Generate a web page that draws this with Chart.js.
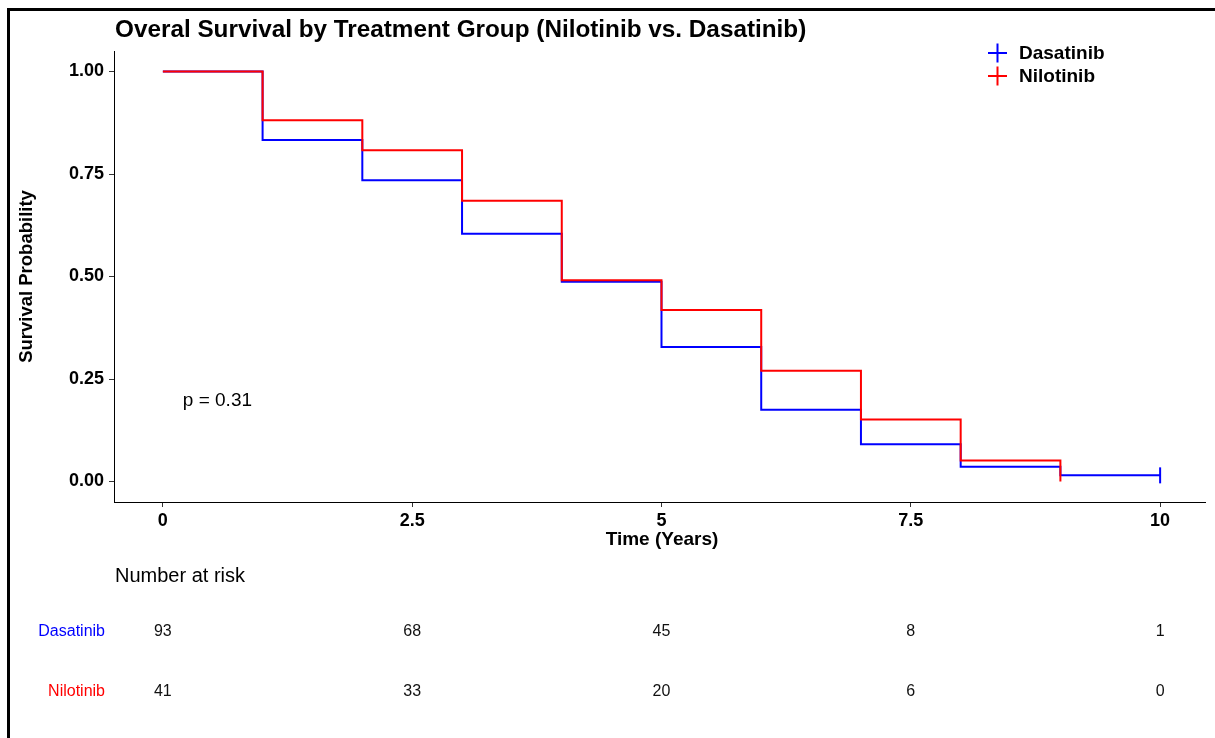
<!DOCTYPE html>
<html>
<head>
<meta charset="utf-8">
<title>Overal Survival by Treatment Group</title>
<script src="https://cdn.jsdelivr.net/npm/chart.js"></script>
<style>
  html, body { margin: 0; padding: 0; background: #fff; }
  #wrap { width: 1215px; height: 738px; }
</style>
</head>
<body>
<div id="wrap"><canvas id="km" width="1215" height="738"></canvas></div>
<script>
// Kaplan-Meier estimates
const timeYears = [0, 1, 2, 3, 4, 5, 6, 7, 8, 9, 10];
const dasatinibSurv = [1.00, 0.833, 0.735, 0.604, 0.487, 0.328, 0.175, 0.091, 0.036, 0.015, 0.015];
const nilotinibSurv = [1.00, 0.881, 0.808, 0.685, 0.491, 0.418, 0.270, 0.151, 0.051, 0.00];

// number-at-risk table
const riskTimes = [0, 2.5, 5, 7.5, 10];
const dasatinibRisk = [93, 68, 45, 8, 1];
const nilotinibRisk = [41, 33, 20, 6, 0];

const yTicks = [0, 0.25, 0.5, 0.75, 1];
const pValueText = "p = 0.31";

const FONT = "'Liberation Sans', Arial, sans-serif";
const BLUE = "#0000FF";
const RED = "#FF0000";

function toPoints(xs, ys) {
    return ys.map((y, i) => ({ x: xs[i], y: y }));
}

// everything that ggsurvplot draws around the curves
const extras = {
    id: "kmExtras",
    afterDraw(chart) {
        const ctx = chart.ctx;
        const x = chart.scales.x;
        const y = chart.scales.y;
        const area = chart.chartArea;
        ctx.save();

        // frame (top + left)
        ctx.fillStyle = "#000";
        ctx.fillRect(7, 8, 1215 - 7, 3);
        ctx.fillRect(7, 8, 3, 738 - 8);

        // title
        ctx.fillStyle = "#000";
        ctx.textBaseline = "alphabetic";
        ctx.textAlign = "left";
        ctx.font = "bold 24.3px " + FONT;
        ctx.fillText("Overal Survival by Treatment Group (Nilotinib vs. Dasatinib)", 115, 37);

        // axis titles
        ctx.font = "bold 19px " + FONT;
        ctx.textAlign = "center";
        ctx.textBaseline = "middle";
        ctx.fillText("Time (Years)", 662, 540);
        ctx.save();
        ctx.translate(27, (area.top + area.bottom) / 2);
        ctx.rotate(-Math.PI / 2);
        ctx.font = "bold 18.5px " + FONT;
        ctx.fillText("Survival Probability", 0, 0);
        ctx.restore();

        // legend
        const legend = [["Dasatinib", BLUE, 53], ["Nilotinib", RED, 76]];
        legend.forEach(([name, col, cy]) => {
            ctx.strokeStyle = col;
            ctx.lineWidth = 2;
            ctx.beginPath();
            ctx.moveTo(988, cy); ctx.lineTo(1007, cy);
            ctx.moveTo(997.5, cy - 9.5); ctx.lineTo(997.5, cy + 9.5);
            ctx.stroke();
            ctx.fillStyle = "#000";
            ctx.font = "bold 19px " + FONT;
            ctx.textAlign = "left";
            ctx.textBaseline = "middle";
            ctx.fillText(name, 1019, cy + 1);
        });

        // p value
        ctx.font = "19px " + FONT;
        ctx.textAlign = "left";
        ctx.fillText(pValueText, x.getPixelForValue(0.2), y.getPixelForValue(0.2) + 1);

        // risk table
        ctx.font = "20px " + FONT;
        ctx.fillText("Number at risk", 115, 576);
        const rows = [["Dasatinib", BLUE, dasatinibRisk, 632], ["Nilotinib", RED, nilotinibRisk, 692]];
        rows.forEach(([name, col, vals, cy]) => {
            ctx.font = "16px " + FONT;
            ctx.textAlign = "right";
            ctx.fillStyle = col;
            ctx.fillText(name, 105, cy);
            ctx.textAlign = "center";
            ctx.fillStyle = "#111";
            vals.forEach((v, i) => ctx.fillText(String(v), x.getPixelForValue(riskTimes[i]), cy));
        });

        ctx.restore();
    }
};

const axisCommon = {
    border: { display: true, color: "#000", width: 1 },
    grid: { display: true, drawOnChartArea: false, drawTicks: true, tickLength: 5, color: "#333" },
};

new Chart(document.getElementById("km"), {
    type: "line",
    data: {
        datasets: [
            {
                label: "Dasatinib",
                data: toPoints(timeYears, dasatinibSurv),
                borderColor: BLUE,
                backgroundColor: BLUE,
                borderWidth: 2,
                stepped: "before",
                fill: false,
                order: 2,
                pointStyle: "line",
                pointRotation: 90,
                pointBorderWidth: 2,
                pointRadius: dasatinibSurv.map((v, i) => i === dasatinibSurv.length - 1 ? 8 : 0),
                clip: false
            },
            {
                label: "Nilotinib",
                data: toPoints(timeYears, nilotinibSurv),
                borderColor: RED,
                backgroundColor: RED,
                borderWidth: 2,
                stepped: "before",
                fill: false,
                order: 1,
                pointRadius: 0,
                clip: false
            }
        ]
    },
    options: {
        responsive: false,
        animation: false,
        events: [],
        layout: { padding: { left: 0, top: 51, right: 0, bottom: 0 } },
        plugins: { legend: { display: false }, title: { display: false }, tooltip: { enabled: false } },
        scales: {
            x: {
                type: "linear",
                // the "10" label overhang keeps the axis 10px from the edge
                min: -0.49,
                max: 10.45,
                ...axisCommon,
                afterBuildTicks: s => { s.ticks = riskTimes.map(v => ({ value: v })); },
                afterFit: s => { s.height = 236; },
                ticks: {
                    color: "#000",
                    padding: 3,
                    maxRotation: 0,
                    font: { family: FONT, size: 18, weight: "bold" },
                    callback: v => String(v)
                }
            },
            y: {
                type: "linear",
                min: -0.05,
                max: 1.05,
                ...axisCommon,
                afterBuildTicks: s => { s.ticks = yTicks.map(v => ({ value: v })); },
                afterFit: s => { s.width = 114; },
                ticks: {
                    color: "#000",
                    padding: 5,
                    font: { family: FONT, size: 18, weight: "bold" },
                    callback: v => v.toFixed(2)
                }
            }
        }
    },
    plugins: [extras]
});
</script>
</body>
</html>
